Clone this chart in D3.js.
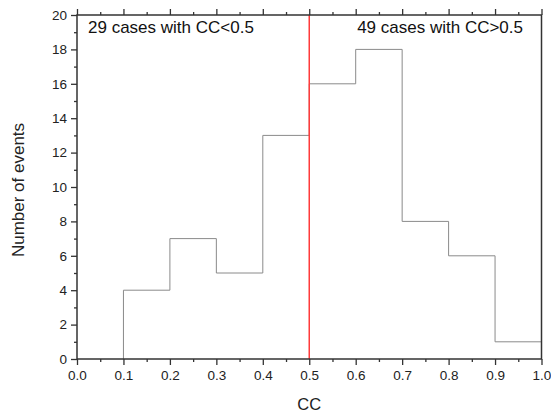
<!DOCTYPE html>
<html><head><meta charset="utf-8">
<script src="https://cdn.jsdelivr.net/npm/d3@7"></script>
<style>body{margin:0;background:#fff}text{font-family:Arial,"Liberation Sans",sans-serif}</style>
</head><body><svg id="c" width="551" height="412"></svg>
<script>
const binEdges = [0.1,0.2,0.3,0.4,0.5,0.6,0.7,0.8,0.9,1.0];
const counts = [4,7,5,13,16,18,8,6,1];
const xTicks = [0.0,0.1,0.2,0.3,0.4,0.5,0.6,0.7,0.8,0.9,1.0];
const yTicks = [0,2,4,6,8,10,12,14,16,18,20];
const threshold = 0.5;
const notes = ["29 cases with CC<0.5","49 cases with CC>0.5"];

const svg = d3.select("#c");
const L=77,R=541.5,T=15,B=359;
const x = d3.scaleLinear().domain([0,1]).range([L,R]);
const y = d3.scaleLinear().domain([0,20]).range([B,T]);
const ax="#333";

// histogram step line
const pts=[[binEdges[0],0]];
counts.forEach((c,i)=>{pts.push([binEdges[i],c]);pts.push([binEdges[i+1],c]);});
svg.append("path").attr("d",d3.line().x(d=>x(d[0])).y(d=>y(d[1]))(pts))
  .attr("fill","none").attr("stroke","#8a8a8a").attr("stroke-width",1);

// threshold
svg.append("line").attr("x1",x(threshold)).attr("x2",x(threshold)).attr("y1",T).attr("y2",B)
  .attr("stroke","#ff3b3b").attr("stroke-width",1.5);

// frame
svg.append("rect").attr("x",L).attr("y",T).attr("width",R-L).attr("height",B-T)
  .attr("fill","none").attr("stroke",ax).attr("stroke-width",1.5);

const minorX = d3.range(0.05,1,0.1);
const minorY = d3.range(1,20,2);
// bottom axis
const gb=svg.append("g").attr("transform",`translate(0,${B})`)
  .call(d3.axisBottom(x).tickValues(xTicks).tickFormat(d3.format(".1f")).tickSize(6).tickPadding(5));
gb.append("g").call(d3.axisBottom(x).tickValues(minorX).tickFormat("").tickSize(3));
// top axis
const gt=svg.append("g").attr("transform",`translate(0,${T})`)
  .call(d3.axisTop(x).tickValues(xTicks).tickFormat("").tickSize(6));
gt.append("g").call(d3.axisTop(x).tickValues(minorX).tickFormat("").tickSize(3));
// left axis
const gl=svg.append("g").attr("transform",`translate(${L},0)`)
  .call(d3.axisLeft(y).tickValues(yTicks).tickFormat(d3.format("d")).tickSize(6).tickPadding(4));
gl.append("g").call(d3.axisLeft(y).tickValues(minorY).tickFormat("").tickSize(3));

svg.selectAll(".domain").remove();
svg.selectAll(".tick line").attr("stroke",ax).attr("stroke-width",1.3);
svg.selectAll(".tick text").attr("font-size",13.5).attr("fill","#222").attr("font-family","Arial,'Liberation Sans',sans-serif");

svg.append("text").attr("x",(L+R)/2).attr("y",410).attr("text-anchor","middle")
  .attr("font-size",16.5).attr("fill","#222").text("CC");
svg.append("text").attr("transform",`translate(24,190) rotate(-90)`).attr("text-anchor","middle")
  .attr("font-size",17).attr("fill","#222").text("Number of events");

svg.append("text").attr("x",88).attr("y",33).attr("font-size",17).attr("fill","#111").text(notes[0]);
svg.append("text").attr("x",523).attr("y",33).attr("text-anchor","end").attr("font-size",17).attr("fill","#111").text(notes[1]);
</script></body></html>
